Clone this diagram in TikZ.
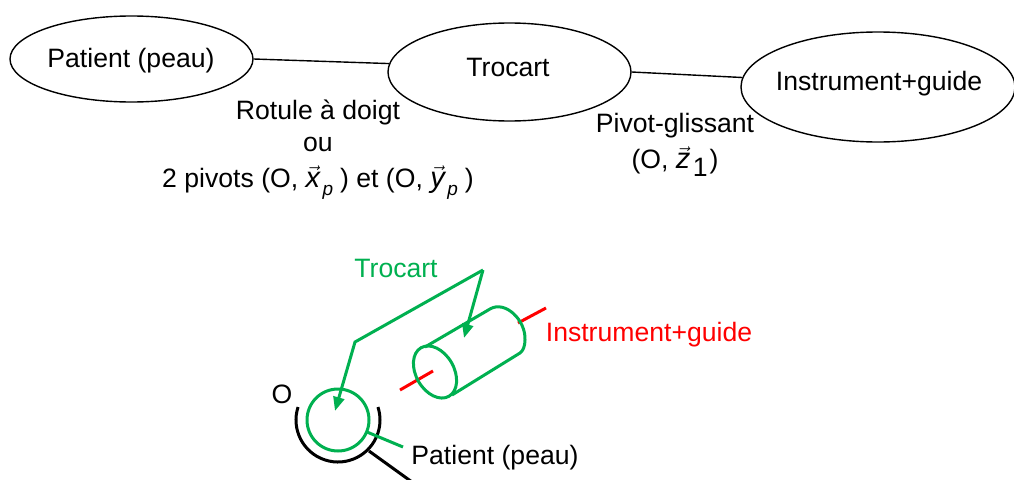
\documentclass[tikz,border=0pt]{standalone}
\usepackage{fontspec}
\setmainfont{Liberation Sans}
\usetikzlibrary{shapes.geometric,arrows.meta}
\definecolor{trocgreen}{RGB}{0,176,80}
\newcommand{\vecsub}[2]{$\vec{\hbox{\itshape\fontsize{29}{29}\selectfont #1}}$\hspace{2.5pt}\raisebox{-8pt}{#2}\hspace{2pt}}
\tikzset{
  linkbox/.style={draw,ellipse,line width=1.4pt,inner sep=0pt},
  linktext/.style={inner sep=0pt,align=center,font=\fontsize{26.6}{36}\selectfont},
  thick green/.style={draw=trocgreen,line width=3pt},
  thick red/.style={draw=red,line width=3pt},
  thick black/.style={draw=black,line width=3pt},
  green tip/.style={-{Triangle[length=14pt,width=11pt]},line join=miter}
}
\begin{document}
\begin{tikzpicture}[x=1pt,y=1pt]
\useasboundingbox (0,0) rectangle (1014,-479);
\clip (0,0) rectangle (1014,-479);

\node[linkbox,minimum width=243pt,minimum height=86pt] (patient) at (131.5,-59) {};
\node[linkbox,minimum width=243pt,minimum height=98pt] (trocart) at (509.5,-72) {};
\node[linkbox,minimum width=274pt,minimum height=110pt] (instrument) at (878,-87) {};

\node[linktext] (patientlabel) at (131,-61) {Patient (peau)};
\node[linktext] (trocartlabel) at (508,-67) {Trocart};
\node[linktext] (instrumentlabel) at (879,-84) {Instrument+guide};

\draw[line width=1.4pt] (patient.east) -- (trocart.176);
\draw[line width=1.4pt] (trocart.east) -- (instrument.176);

\node[linktext] (rotule) at (318,-150) {Rotule à doigt\\[-4pt]ou\\2 pivots (O, \vecsub{x}{\itshape\fontsize{19}{19}\selectfont p}\hspace{5pt}) et (O, \vecsub{y}{\itshape\fontsize{19}{19}\selectfont p}\hspace{5pt})};
\node[linktext] (pivot) at (675,-145) {Pivot-glissant\\(O, \vecsub{z}{\fontsize{26.6}{26}\selectfont 1})};

% scheme below
\node[linktext,text=trocgreen] (trocartname) at (396,-268) {Trocart};
\node[linktext,text=red] (instrumentname) at (649,-335) {Instrument+guide};
\node[linktext] (pointO) at (282,-394) {O};
\node[linktext] (patientname) at (495,-458) {Patient (peau)};

\coordinate (bend) at (483,-270);
\coordinate (corner) at (355,-342);
\coordinate (cylpoint) at (464,-338);
\coordinate (circpoint) at (335,-411);
\coordinate (center) at (338,-420);
\coordinate (skin) at (403,-447);
\coordinate (skinstart) at (367,-432);

\draw[thick black] (center) ++(162:42) arc (162:378:42);
\draw[thick black] (369,-451) -- (412,-482);

\draw[thick red] (400,-390) -- (433,-371);
\draw[thick red] (518,-323) -- (546,-308);

\draw[thick green] (center) circle (31);
\draw[thick green] (skinstart) -- (skin);
\draw[thick green,rotate around={-60:(435,-372)}] (435,-372) ellipse (28 and 19);
\draw[thick green] (425,-347) -- (490,-309) .. controls (505,-300) and (526,-320) .. (525,-340)
  .. controls (525,-346) and (523,-351) .. (520,-353) -- (452,-395);

\draw[thick green,green tip] (bend) -- (cylpoint);
\draw[thick green,green tip] (bend) -- (corner) -- (circpoint);
\end{tikzpicture}
\end{document}
